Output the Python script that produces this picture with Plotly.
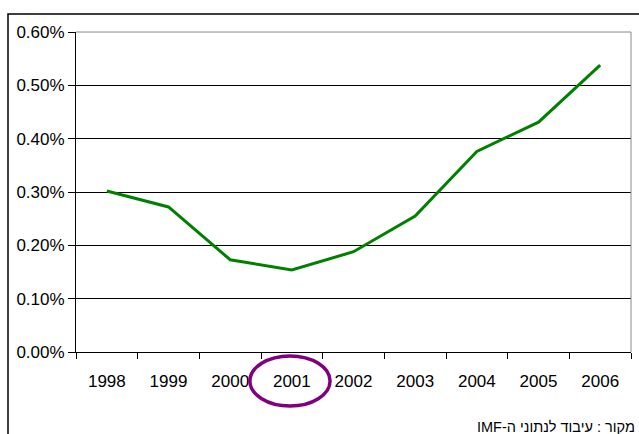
import plotly.graph_objects as go

years = ["1998", "1999", "2000", "2001", "2002", "2003", "2004", "2005", "2006"]
values = [0.00302, 0.00272, 0.00173, 0.00154, 0.00188, 0.00255, 0.00376, 0.00431, 0.00538]
y_ticks = [0, 0.001, 0.002, 0.003, 0.004, 0.005, 0.006]
y_tick_labels = ["0.00%", "0.10%", "0.20%", "0.30%", "0.40%", "0.50%", "0.60%"]
source_text = "מקור : עיבוד לנתוני ה-IMF"
highlight = "2001"

W, H = 639, 434
L, R, T, B = 76, 631, 32, 352

def px_x(p):
    return (p - L) / (R - L)

def px_y(p):
    return (B - p) / (B - T)

fig = go.Figure()
fig.add_trace(go.Scatter(
    x=years, y=values, mode="lines",
    line=dict(color="#008000", width=3),
    hoverinfo="skip", showlegend=False,
))

font = dict(family="Liberation Sans, Arial, sans-serif", size=17, color="black")

fig.update_layout(
    width=W, height=H,
    margin=dict(l=L, r=W - R, t=T, b=H - B),
    paper_bgcolor="white", plot_bgcolor="white",
    font=font,
    xaxis=dict(
        type="category", categoryorder="array", categoryarray=years,
        range=[-0.5, len(years) - 0.5],
        showgrid=False, showline=True, linecolor="black", linewidth=1,
        ticks="outside", tickson="boundaries", ticklen=6, tickcolor="black",
        tickfont=font, ticklabelstandoff=14, fixedrange=True,
    ),
    yaxis=dict(
        range=[0, 0.006], tickvals=y_ticks, ticktext=y_tick_labels,
        showgrid=True, gridcolor="black", gridwidth=1,
        showline=True, linecolor="black", linewidth=1,
        ticks="outside", ticklen=7, tickcolor="black",
        tickfont=font, zeroline=False, fixedrange=True,
    ),
    shapes=[
        dict(type="line", xref="paper", yref="paper", x0=1, x1=1, y0=0, y1=1,
             line=dict(color="#888888", width=1)),
        dict(type="line", xref="paper", yref="paper", x0=0, x1=1, y0=1, y1=1,
             line=dict(color="#888888", width=1)),
        dict(type="rect", xref="paper", yref="paper",
             x0=px_x(8), x1=px_x(660), y0=px_y(460), y1=px_y(14),
             line=dict(color="black", width=1.5), layer="below"),
        dict(type="circle", xref="x", yref="paper",
             x0=years.index(highlight) - 0.68, x1=years.index(highlight) + 0.62,
             y0=px_y(406), y1=px_y(356),
             line=dict(color="#800080", width=3.5)),
    ],
    annotations=[
        dict(text="\u202b" + source_text + "\u202c", xref="paper", yref="paper",
             x=px_x(637), y=px_y(427), xanchor="right", yanchor="middle",
             showarrow=False, font=dict(family="Liberation Sans, Arial, sans-serif", size=14.5, color="black")),
    ],
)

fig.write_html("out.html")
